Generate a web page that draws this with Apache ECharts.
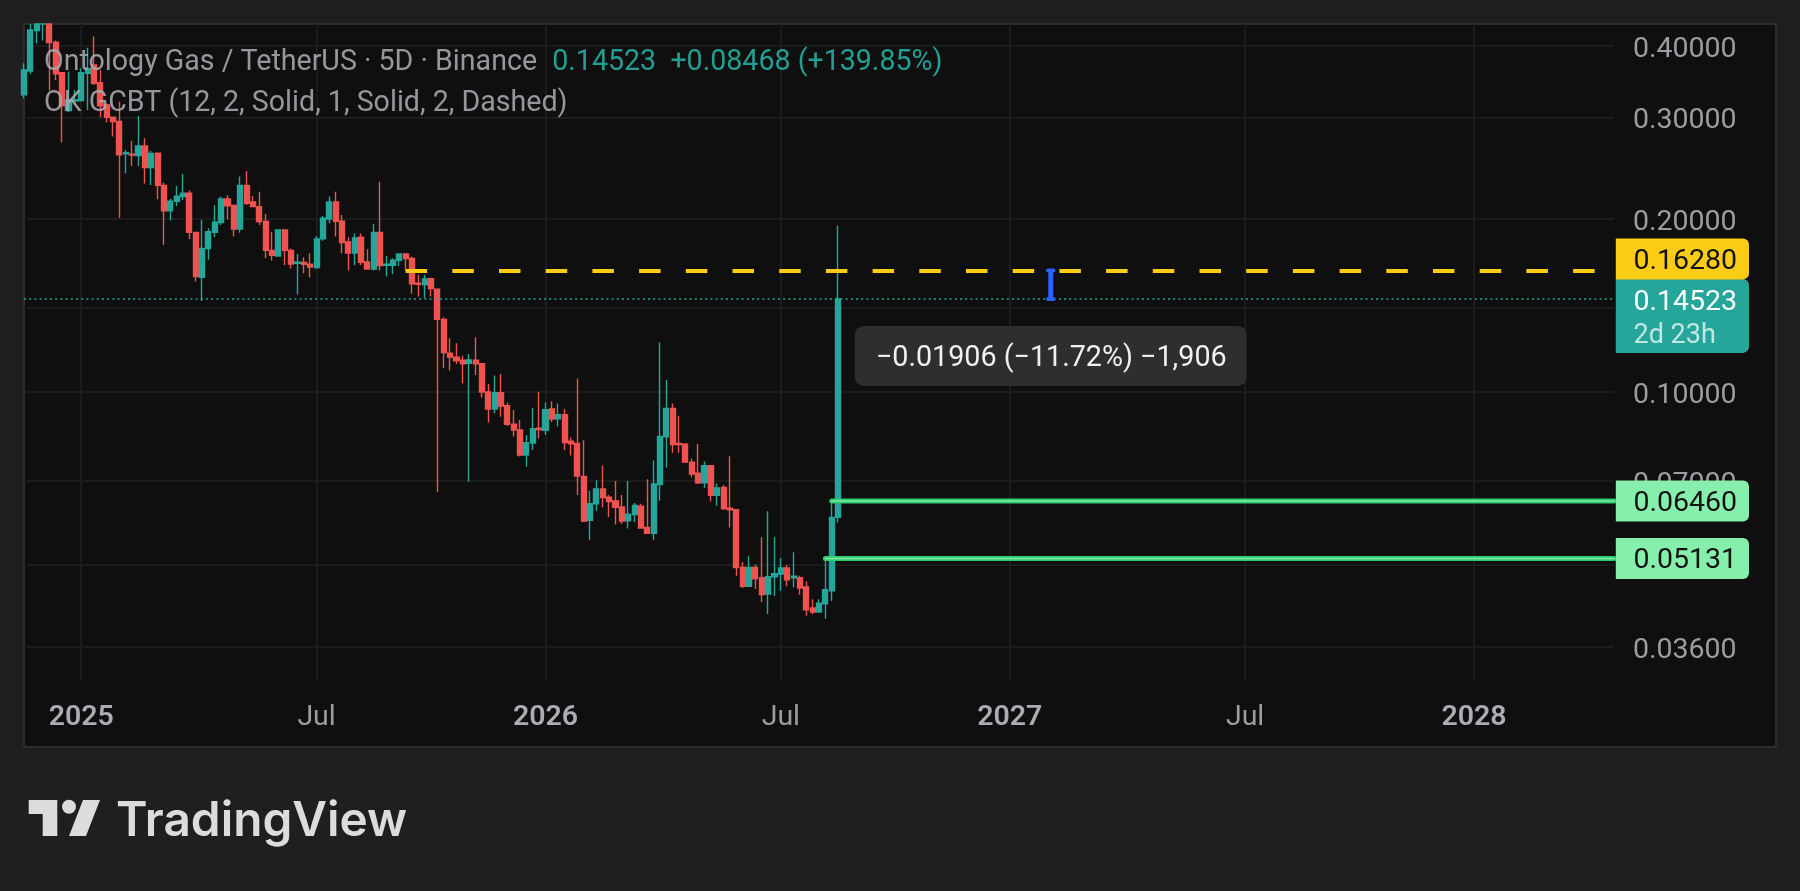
<!DOCTYPE html>
<html><head><meta charset="utf-8">
<script src="https://cdn.jsdelivr.net/npm/echarts@6/dist/echarts.min.js"></script>
<style>html,body{margin:0;padding:0;background:#1f1f1f}#c{width:1800px;height:891px}</style>
</head><body><div id="c"></div>
<script>
const opens=[.3289,.3620,.4255,.4369,.4369,.4061,.3596,.3090,.3210,.3214,.3587,.3707,.3453,.3160,.3006,.2956,.2596,.2593,.2579,.2681,.2457,.2603,.2289,.2066,.2147,.2188,.2218,.1896,.1584,.1776,.1896,.1972,.2167,.2111,.1922,.2289,.2141,.2102,.1980,.1764,.1725,.1914,.1764,.1675,.1680,.1668,.1646,.1847,.2000,.2141,.1982,.1825,.1745,.1859,.1684,.1637,.1896,.1661,.1661,.1695,.1739,.1707,.1546,.1536,.1575,.1510,
.1338,.1168,.1150,.1136,.1122,.1136,.1120,.1000,.0934,.0997,.0947,.0879,.0859,.0777,.0815,.0865,.0858,.0934,.0898,.0913,.0821,.0814,.0713,.0598,.0639,.0678,.0656,.0646,.0631,.0597,.0612,.0633,.0581,.0568,.0690,.0836,.0936,.0814,.0811,.0755,.0722,.0695,.0744,.0661,.0682,.0628,.0624,.0495,.0459,.0495,.0475,.0445,.0477,.0482,.0494,.0475,.0475,.0458,.0421,.0414,.0428,.0451,.06055];
const closes=[.3634,.4266,.4369,.4369,.4056,.3577,.3147,.3222,.3222,.3596,.3658,.3444,.3147,.3006,.2956,.2586,.2610,.2583,.2681,.2457,.2600,.2289,.2066,.2147,.2191,.2218,.1896,.1588,.1778,.1901,.1974,.2167,.2108,.1922,.2289,.2130,.2102,.1980,.1764,.1730,.1914,.1764,.1670,.1682,.1668,.1650,.1847,.2006,.2141,.1982,.1820,.1745,.1854,.1682,.1637,.1896,.1659,.1668,.1695,.1739,.1707,.1542,.1540,.1573,.1514,.1338,
.1171,.1150,.1133,.1120,.1137,.1120,.1000,.0934,.0997,.0945,.0879,.0859,.0777,.0816,.0863,.0860,.0932,.0897,.0913,.0817,.0813,.0714,.0596,.0639,.0678,.0655,.0645,.0630,.0596,.0613,.0635,.0580,.0568,.0692,.0837,.0936,.0810,.0810,.0755,.0720,.0695,.0744,.0661,.0681,.0626,.0624,.0495,.0459,.0495,.0473,.0444,.0477,.0483,.0494,.0471,.0478,.0456,.0418,.0414,.0429,.0453,.0605,.14523];
const lows=[.3244,.3577,.4045,.4088,.3346,.3492,.2717,.3070,.3201,.3201,.3097,.3422,.3006,.2944,.2783,.2011,.2403,.2474,.2474,.2307,.2292,.2164,.1803,.1988,.2108,.2158,.1844,.1557,.1440,.1698,.1859,.1953,.1998,.1864,.1893,.2116,.2097,.1953,.1709,.1693,.1720,.1663,.1641,.1478,.1610,.1582,.1639,.1834,.1967,.1864,.1743,.1627,.1661,.1663,.1635,.1627,.1627,.1588,.1605,.1659,.1627,.1482,.1466,.1456,.1466,.0669,
.1100,.1090,.1119,.1036,.0698,.1071,.0978,.0885,.0918,.0906,.0873,.0837,.0772,.0741,.0793,.0831,.0842,.0887,.0871,.0793,.0775,.0662,.0594,.0553,.0621,.0630,.0606,.0588,.0589,.0579,.0594,.0579,.0566,.0553,.0647,.0739,.0784,.0784,.0753,.0711,.0692,.0681,.0645,.0634,.0624,.0581,.0479,.0456,.0458,.0454,.0431,.0411,.0442,.0451,.0459,.0457,.0444,.0408,.0411,.0413,.0403,.0433,.0593];
const highs=[.3733,.4369,.4369,.4369,.4369,.4088,.3606,.3611,.3355,.3658,.3974,.4154,.3634,.3180,.3014,.3201,.2637,.2735,.3022,.2764,.2630,.2610,.2313,.2170,.2283,.2397,.2242,.1901,.1993,.1927,.2114,.2188,.2200,.2111,.2371,.2425,.2194,.2230,.2041,.1901,.1919,.1919,.1778,.1739,.1716,.1743,.1868,.2025,.2188,.2230,.2033,.1859,.1888,.1888,.1771,.1961,.2323,.1727,.1709,.1743,.1743,.1720,.1599,.1599,.1580,.1516,
.1349,.1240,.1216,.1156,.1165,.1245,.1122,.1033,.1068,.1075,.0959,.0930,.0894,.0842,.0939,.1001,.0959,.0964,.0955,.0934,.0833,.1056,.0824,.0673,.0702,.0744,.0662,.0700,.0662,.0700,.0641,.0639,.0705,.0760,.1220,.1049,.0955,.0909,.0815,.0766,.0812,.0757,.0745,.0694,.0689,.0773,.0625,.0506,.0518,.0501,.0559,.0620,.0559,.0514,.0500,.0526,.0479,.0468,.0436,.0436,.05131,.0646,.1947];
const BAR_SLOTS=251;
const categories=Array.from({length:BAR_SLOTS},(_,i)=>'bar'+i);
const xTickBars=[9,46,82,119,155,192,228];
const xTickLabels=['2025','Jul','2026','Jul','2027','Jul','2028'];
const yTicks=[0.4,0.3,0.2,0.14,0.1,0.07,0.05,0.036];
const tagValues=[0.05131,0.0646,0.14523,0.1628];
const tagTexts=['0.05131','0.06460','0.14523','0.16280'];
const FONT='Roboto';
const yMin=0.03154,yMax=0.4369;
const candleData=opens.map((o,i)=>[o,closes[i],lows[i],highs[i]]);
const greenLines=[[126,0.05131],[127,0.0646]];
const xMap={};xTickBars.forEach((b,i)=>xMap['bar'+b]=xTickLabels[i]);

function tagItem(params,api){
  const i=params.dataIndex,v=api.value(1);
  const y=api.coord([0,v])[1];
  const cs=params.coordSys;
  const x0=cs.x+cs.width+1,w=134;
  let top,h,fill,tc;
  if(i===3){top=y-32;h=41;fill='#FACC15';tc='#131313';}
  else if(i===2){top=y-20;h=74;fill='#26A69A';tc='#ffffff';}
  else{top=y-20.5;h=41;fill='#86EFAC';tc='#131313';}
  const ch=[{type:'rect',shape:{x:x0+0.8,y:top,width:w-0.8,height:h,r:[0,6,6,0]},style:{fill}},
   {type:'text',style:{text:tagTexts[i],x:x0+18.5,y:i===2?top+24:top+h/2+2.5,fill:tc,fontFamily:FONT,fontSize:28.5,textVerticalAlign:'middle'}}];
  if(i===2)ch.push({type:'text',style:{text:'2d 23h',x:x0+18.5,y:top+57,fill:'rgba(255,255,255,0.72)',fontFamily:FONT,fontSize:27,textVerticalAlign:'middle'}});
  return {type:'group',children:ch};
}
function measureItem(params,api){
  const a=api.coord([161,0.1628]),b=api.coord([161,0.14523]);
  const x=a[0]+2.8;
  const c='#2962FF';
  return {type:'group',children:[
    {type:'rect',shape:{x:x-2.5,y:a[1],width:5,height:b[1]-a[1]},style:{fill:c}},
    {type:'rect',shape:{x:x-4.7,y:a[1]-2,width:9.4,height:4,r:2},style:{fill:c}},
    {type:'rect',shape:{x:x-4.7,y:b[1]-2,width:9.4,height:4,r:2},style:{fill:c}},
    {type:'rect',shape:{x:x-196,y:b[1]+27,width:392,height:60,r:9},style:{fill:'#2e2e2e'}},
    {type:'text',style:{text:'\u22120.01906 (\u221211.72%) \u22121,906',x:x+0.5,y:b[1]+59.5,fill:'#f0f0f0',fontFamily:FONT,fontSize:28.7,textAlign:'center',textVerticalAlign:'middle'}}
  ]};
}
const chart=echarts.init(document.getElementById('c'),null,{renderer:'canvas',width:1800,height:891});
const gline=(name,idx,val,color,width,z)=>({type:'line',name,data:[[idx,val],[250,val]],showSymbol:false,symbol:'none',silent:true,z,lineStyle:{color,width,cap:'round'}});
chart.setOption({
  animation:false,
  backgroundColor:'#1f1f1f',
  textStyle:{fontFamily:FONT},
  title:[
    {left:44,top:48,padding:0,text:'{a|Ontology Gas / TetherUS \u00b7 5D \u00b7 Binance}{g|  0.14523  +0.08468 (+139.85%)}',
     textStyle:{fontWeight:400,rich:{a:{fontFamily:FONT,fontWeight:400,fontSize:28.6,color:'rgba(170,170,178,0.88)'},g:{fontFamily:FONT,fontWeight:400,fontSize:28.6,padding:[0,0,0,1],color:'rgba(38,166,154,0.95)'}}}},
    {left:44,top:89,padding:0,text:'OK GCBT (12, 2, Solid, 1, Solid, 2, Dashed)',
     textStyle:{fontFamily:FONT,fontSize:28.6,fontWeight:400,color:'rgba(170,170,178,0.88)'}}
  ],
  graphic:[
    {type:'rect',z:-10,silent:true,shape:{x:24,y:24,width:1752,height:723},style:{fill:'#0f0f0f',stroke:'#2c2c2c',lineWidth:2}},
    {type:'polygon',shape:{points:[[28.7,800],[57.3,800],[57.3,836],[42.7,836],[42.7,814],[28.7,814]]},style:{fill:'#dcdcdc'}},
    {type:'circle',shape:{cx:69,cy:806.7,r:7},style:{fill:'#dcdcdc'}},
    {type:'polygon',shape:{points:[[83,800],[100,800],[86,836],[69,836]]},style:{fill:'#dcdcdc'}},
    {type:'text',style:{text:'TradingView',x:116,y:822,fill:'#dcdcdc',fontFamily:'Inter',fontWeight:600,fontSize:47.8,textVerticalAlign:'middle'}}
  ],
  grid:{left:24,top:24,width:1590,height:656,containLabel:false},
  xAxis:{type:'category',data:categories,boundaryGap:false,
    axisLine:{show:false},axisTick:{show:false},
    splitLine:{show:true,interval:(i,v)=>v in xMap,lineStyle:{color:'#1c1c1c',width:2}},
    axisLabel:{interval:(i,v)=>v in xMap,margin:23,fontFamily:FONT,fontSize:28.5,color:'#9c9ca3',hideOverlap:false,showMinLabel:true,showMaxLabel:true,
      formatter:v=>{const t=xMap[v]||'';return /^\d/.test(t)?'{y|'+t+'}':t;},
      rich:{y:{fontFamily:FONT,fontSize:28.5,fontWeight:600,color:'#abacb4'}}}},
  yAxis:{type:'log',logBase:10,position:'right',min:yMin,max:yMax,
    axisLine:{show:false},
    axisTick:{show:false,customValues:yTicks},
    splitLine:{show:true,lineStyle:{color:'#1c1c1c',width:2}},
    minorSplitLine:{show:false},
    axisLabel:{customValues:yTicks,margin:19,fontFamily:FONT,fontSize:28.5,color:'#9c9ca3',formatter:v=>'{p|'+Number(v).toFixed(5)+'}',
      rich:{p:{fontFamily:FONT,fontSize:28.5,color:'#9c9ca3',padding:[7,0,0,0]}}}},
  series:[
    {type:'candlestick',name:'Ontology Gas / TetherUS',data:candleData,barWidth:5.6,clip:true,z:3,
     itemStyle:{color:'#26A69A',color0:'#EF5350',borderColor:'#26A69A',borderColor0:'#EF5350',borderWidth:1.4},
     markLine:{silent:true,symbol:'none',label:{show:false},animation:false,
      data:[
       [{coord:[0,0.14523],lineStyle:{color:'#26A69A',width:1.5,type:[2,3.2]}},{coord:[250,0.14523]}],
       [{coord:[60,0.1628],lineStyle:{color:'#FACC15',width:4,type:[21.5,25.2]}},{coord:[250,0.1628]}]
      ]}},
    gline('pivotHighA',greenLines[0][0],greenLines[0][1],'#2FCB6E',5,4),
    gline('pivotHighACore',greenLines[0][0],greenLines[0][1],'#7FEBA6',1.6,5),
    gline('pivotHighB',greenLines[1][0],greenLines[1][1],'#2FCB6E',5,4),
    gline('pivotHighBCore',greenLines[1][0],greenLines[1][1],'#7FEBA6',1.6,5),
    {type:'custom',name:'measure',coordinateSystem:'cartesian2d',clip:false,silent:true,z:6,renderItem:measureItem,data:[[161,0.14523]],encode:{x:0,y:1}},
    {type:'custom',name:'tags',coordinateSystem:'cartesian2d',clip:false,silent:true,z:7,renderItem:tagItem,data:tagValues.map(v=>[0,v]),encode:{x:0,y:1}}
  ]
});
</script></body></html>
